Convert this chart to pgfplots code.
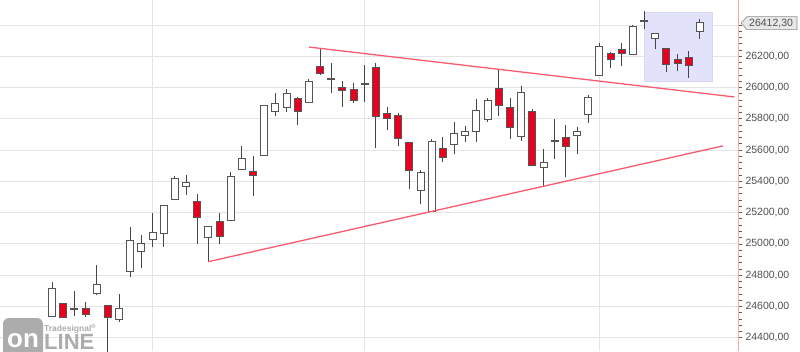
\documentclass[border=0pt]{standalone}
\usepackage{pgfplots}
\pgfplotsset{compat=1.18}
\usepackage{pgfplotstable}
\usepackage{fontspec}
\setmainfont{Liberation Sans}

\definecolor{gridc}{RGB}{228,228,228}
\definecolor{wickc}{RGB}{70,70,70}
\definecolor{outl}{RGB}{85,85,85}
\definecolor{redc}{RGB}{232,0,30}
\definecolor{trend}{RGB}{250,90,110}
\definecolor{axisc}{RGB}{240,170,170}
\definecolor{tickc}{RGB}{90,90,90}
\definecolor{labc}{RGB}{80,80,80}
\definecolor{rectc}{RGB}{226,226,250}
\definecolor{rectb}{RGB}{215,215,245}
\definecolor{logoc}{RGB}{172,172,172}
\definecolor{flagf}{RGB}{232,232,232}
\definecolor{flagd}{RGB}{140,140,140}

\pgfplotstableread{
i o h l c
1 24539 24756 24535 24710
2 24614 24618 24530 24534
3 24581 24701 24539 24582
4 24584 24626 24534 24554
5 24688 24863 24673 24737
6 24603 24606 24300 24531
7 24522 24678 24499 24582
8 24829 25110 24790 25019
9 24956 25055 24844 25001
10 25029 25196 24982 25068
11 25068 25250 24982 25244
12 25287 25434 25285 25415
13 25372 25441 25313 25391
14 25270 25317 25000 25174
15 25046 25112 24886 25110
16 25142 25200 25000 25052
17 25153 25462 25150 25430
18 25479 25626 25477 25543
19 25462 25562 25306 25441
20 25569 25888 25565 25882
21 25850 25963 25820 25893
22 25877 25989 25846 25957
23 25925 25940 25760 25850
24 25908 26055 25905 26035
25 26131 26251 26080 26093
26 26056 26155 25963 26057
27 25995 26042 25877 25984
28 25984 26029 25901 25920
29 26024 26144 25909 26025
30 26123 26155 25611 25818
31 25831 25877 25728 25803
32 25818 25839 25628 25675
33 25643 25646 25351 25473
34 25345 25473 25255 25455
35 25212 25669 25208 25654
36 25605 25682 25526 25558
37 25639 25782 25573 25703
38 25696 25756 25654 25714
39 25722 25925 25650 25852
40 25799 25931 25782 25916
41 25991 26112 25818 25888
42 25871 25935 25669 25746
43 25690 26012 25658 25967
44 25846 25861 25500 25505
45 25494 25605 25370 25516
46 25658 25797 25543 25659
47 25677 25760 25430 25626
48 25696 25748 25575 25714
49 25831 25952 25773 25933
50 26078 26283 26074 26257
51 26215 26229 26123 26181
52 26240 26287 26138 26219
53 26215 26398 26212 26387
54 26427 26490 26373 26428
55 26315 26346 26245 26342
56 26245 26248 26101 26151
57 26174 26215 26104 26157
58 26187 26236 26063 26144
59 26362 26438 26309 26412.3
}\candles

\begin{document}
\begin{tikzpicture}
\useasboundingbox (0pt,0pt) rectangle (800pt,351pt);
\begin{axis}[
  at={(0pt,0pt)}, anchor=south west,
  width=738pt, height=351pt, scale only axis,
  xmin=-3.655, xmax=62.41, ymin=24315, ymax=26560,
  axis y line*=right, axis x line*=bottom,
  x axis line style={draw=none},
  y axis line style={axisc, line width=0.8pt},
  xtick={10,29,50}, xticklabels={}, xtick style={draw=none},
  xmajorgrids, ymajorgrids,
  grid style={gridc, line width=0.9pt},
  ytick={24400,24600,...,26400},
  yticklabels={{24400,00},{24600,00},{24800,00},{25000,00},{25200,00},{25400,00},{25600,00},{25800,00},{26000,00},{26200,00},{}},
  minor y tick num=4,
  tick align=outside, major tick length=4pt, minor tick length=4pt,
  ytick style={tickc, line width=0.8pt},
  minor tick style={tickc, line width=0.8pt},
  yticklabel style={font=\fontsize{10.5}{12}\selectfont, text=labc, anchor=west},
  clip=true,
]
\addplot[fill=rectc, draw=rectb, line width=0.6pt] coordinates {(54,26042) (60.1,26042) (60.1,26483) (54,26483)} --cycle;

\addplot[wickc, line width=1pt, quiver={u=0, v={\thisrow{h}-\thisrow{l}}}] table[x=i, y=l] {\candles};
\addplot[outl, line width=8pt, quiver={u=0, v={abs(\thisrow{c}-\thisrow{o})+12.8}}] table[x=i, y expr={min(\thisrow{o},\thisrow{c})-6.4}] {\candles};
\addplot[white, line width=6pt, quiver={u=0, v={\thisrow{c}-\thisrow{o}}}, restrict expr to domain={\thisrow{c}-\thisrow{o}}{2:100000}] table[x=i, y=o] {\candles};
\addplot[redc, line width=6pt, quiver={u=0, v={\thisrow{o}-\thisrow{c}}}, restrict expr to domain={\thisrow{o}-\thisrow{c}}{2:100000}] table[x=i, y=c] {\candles};

\addplot[trend, line width=1.3pt] coordinates {(24.01,26259) (62.06,25940)};
\addplot[trend, line width=1.3pt] coordinates {(14.97,24886) (61.07,25627)};

\coordinate (flag) at (axis cs:62.41,26412.3);
\end{axis}
\filldraw[fill=flagf, draw=flagd, line width=0.6pt] ([xshift=3pt]flag) -- ++(6pt,6.5pt) -- ++(50pt,0pt) -- ++(0pt,-13pt) -- ++(-50pt,0pt) -- cycle;
\node[anchor=west, inner sep=0pt, text=labc, font=\fontsize{10.5}{12}\selectfont] at ([xshift=11pt]flag) {26412,30};

% watermark logo
\fill[logoc, rounded corners=6pt] (3pt,-6pt) rectangle (43pt,33pt);
\node[anchor=base, inner sep=0pt, text=white, font=\bfseries\fontsize{26}{26}\selectfont] at (23pt,3.5pt) {on};
\node[anchor=base west, inner sep=0pt, text=logoc, font=\bfseries\fontsize{22}{22}\selectfont] at (44pt,2pt) {LINE};
\node[anchor=base west, inner sep=0pt, text=logoc, font=\bfseries\fontsize{8.5}{9}\selectfont] at (44pt,20pt) {Tradesignal\textsuperscript{®}};
\end{tikzpicture}
\end{document}
